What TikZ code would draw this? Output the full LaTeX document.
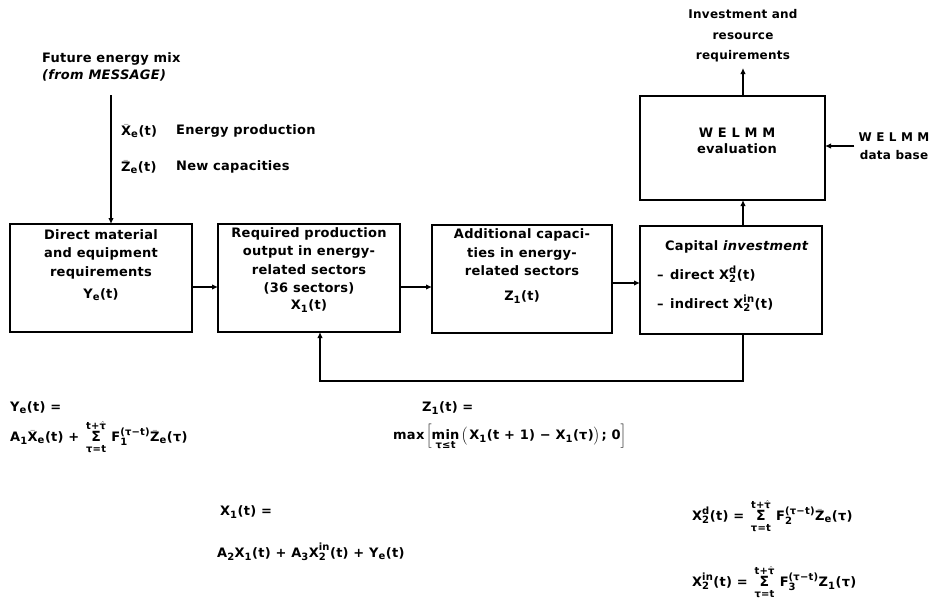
\documentclass[tikz,border=0pt]{standalone}
\usepackage{fontspec}
\setmainfont{DejaVu Sans}[LetterSpace=2]
\usetikzlibrary{arrows.meta}

% upright text inside formulas, and its small version for indices
\newcommand\tx[1]{\mbox{#1}}
\newcommand\ix[1]{\mbox{\fontsize{10}{11}\selectfont #1}}
% summation sign with its limits set a little apart from it
\newcommand\sumlim[2]{\mathop{\tx{\fontsize{14}{15}\selectfont Σ}}\limits_{\raisebox{0pt}[\dimexpr\height+2pt][\depth]{\ix{#1}}}^{\raisebox{0pt}[\height][\dimexpr\depth+2pt]{\ix{#2}}}}
\newcommand\tauhat{$\hat{\mbox{τ}}$}

\tikzset{
  every node/.style={font=\fontsize{13}{18.5}\selectfont\bfseries, inner sep=0pt},
  box/.style={draw, line width=1.5pt, minimum width=#1, minimum height=108pt, outer sep=0pt},
  lbl/.style={align=center},
  conn/.style={line width=1.4pt},
  arr/.style={conn, -{Latex[length=6pt,width=5.5pt]}},
}

\begin{document}
\begin{tikzpicture}[x=1pt, y=-1pt]
\useasboundingbox (0,0) rectangle (942,611);

% --- main chain of blocks
\node[box=182pt] (b1) at (101,278) {};
\node[lbl] (t1) at (101,265) {Direct material\\and equipment\\requirements\\[4pt]$\tx{Y}_{\ix{e}}\tx{(t)}$};

\node[box=182pt] (b2) at (309,278) {};
\node[lbl] (t2) at (309,270) {Required production\\output in energy-\\related sectors\\(36 sectors)\\[-2pt]$\tx{X}_{\ix{1}}\tx{(t)}$};

\node[box=180pt] (b3) at (522,279) {};
\node[lbl] (t3) at (522,266) {Additional capaci-\\ties in energy-\\related sectors\\[6pt]$\tx{Z}_{\ix{1}}\tx{(t)}$};

\node[box=182pt] (b4) at (731,280) {};
\node[align=left, font=\fontsize{13}{29}\selectfont\bfseries] (t4) at (733,276)
  {\hspace*{8pt}Capital \textit{investment}\\
   –\enspace direct $\tx{X}^{\ix{d}}_{\ix{2}}\tx{(t)}$\\
   –\enspace indirect $\tx{X}^{\ix{in}}_{\ix{2}}\tx{(t)}$};

\node[box=185pt, minimum height=104pt] (wel) at (732.5,148) {};
\node[lbl] (twel) at (737,141) {W E L M M\\[-3pt]evaluation};

% --- inputs and outputs
\node[align=left, anchor=west] (mix) at (42,67) {Future energy mix\\[-2pt]\textit{(from MESSAGE)}};
\coordinate (inp) at (111,95);
\node[anchor=west] (xe) at (121,131) {$\bar{\tx{X}}_{\ix{e}}\tx{(t)}$};
\node[anchor=west] (xel) at (176,131) {Energy production};
\node[anchor=west] (ze) at (121,167) {$\bar{\tx{Z}}_{\ix{e}}\tx{(t)}$};
\node[anchor=west] (zel) at (176,167) {New capacities};

\node[lbl, font=\fontsize{12}{20.5}\selectfont\bfseries] (res) at (743,36)
  {Investment and\\resource\\requirements};
\coordinate (resin) at (743,68);
\coordinate (colx) at (743,0);

\node[lbl, font=\fontsize{12}{18}\selectfont\bfseries] (db) at (894,146) {W E L M M\\data base};

% --- connectors
\coordinate (row1) at (0,287);
\coordinate (row2) at (0,283);
\draw[arr] (inp) -- (b1.north -| inp);
\draw[arr] (b1.east |- row1) -- (b2.west |- row1);
\draw[arr] (b2.east |- row1) -- (b3.west |- row1);
\draw[arr] (b3.east |- row2) -- (b4.west |- row2);
\draw[arr] (b4.north -| colx) -- (wel.south -| colx);
\draw[arr] (wel.north -| colx) -- (resin);
\draw[arr] ([xshift=-4pt]db.west) -- (wel.east |- db.west);

\coordinate (fbr) at (743,381);
\coordinate (fbl) at (320,381);
\draw[arr] (b4.south -| fbr) -- (fbr) -- (fbl) -- (b2.south -| fbl);

% --- relations
\node[anchor=west] (eqy) at (10,408) {$\tx{Y}_{\ix{e}}\tx{(t) =}$};
\node[anchor=west] (eqyr) at (10,437)
  {$\tx{A}_{\ix{1}}\bar{\tx{X}}_{\ix{e}}\tx{(t) + }\sumlim{τ=t}{t+\tauhat}\;\tx{F}_{\ix{1}}^{\ix{(τ−t)}}\bar{\tx{Z}}_{\ix{e}}\tx{(τ)}$};

\node[anchor=west] (eqz) at (422,408) {$\tx{Z}_{\ix{1}}\tx{(t) =}$};
\node[anchor=west] (eqzr) at (393,437)
  {$\tx{max}\left[\mathop{\tx{min}}\limits_{\ix{τ≤t}}\left(\,\tx{X}_{\ix{1}}\tx{(t + 1) − X}_{\ix{1}}\tx{(τ)}\right)\tx{; 0}\right]$};

\node[anchor=west] (eqx) at (220,512) {$\tx{X}_{\ix{1}}\tx{(t) =}$};
\node[anchor=west] (eqxr) at (217,552)
  {$\tx{A}_{\ix{2}}\tx{X}_{\ix{1}}\tx{(t) + A}_{\ix{3}}\tx{X}^{\ix{in}}_{\ix{2}}\tx{(t) + Y}_{\ix{e}}\tx{(t)}$};

\node[anchor=west] (eqd) at (692,516)
  {$\tx{X}^{\ix{d}}_{\ix{2}}\tx{(t) = }\sumlim{τ=t}{t+\tauhat}\;\tx{F}_{\ix{2}}^{\ix{(τ−t)}}\bar{\tx{Z}}_{\ix{e}}\tx{(τ)}$};
\node[anchor=west] (eqin) at (692,582)
  {$\tx{X}^{\ix{in}}_{\ix{2}}\tx{(t) = }\sumlim{τ=t}{t+\tauhat}\;\tx{F}_{\ix{3}}^{\ix{(τ−t)}}\tx{Z}_{\ix{1}}\tx{(τ)}$};
\end{tikzpicture}
\end{document}
